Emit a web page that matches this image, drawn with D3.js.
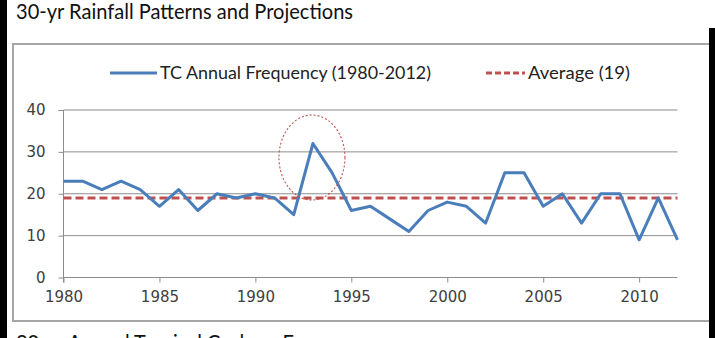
<!DOCTYPE html>
<html>
<head>
<meta charset="utf-8">
<script src="https://cdn.jsdelivr.net/npm/d3@7"></script>
<style>
  html, body { margin: 0; padding: 0; background: #fff; }
  svg { display: block; }
</style>
</head>
<body>
<svg id="chart" width="715" height="338"></svg>
<script>
// Annual tropical cyclone counts, 1980-2012
const years = d3.range(1980, 2013);
const tcCounts = [23, 23, 21, 23, 21, 17, 21, 16, 20, 19, 20, 19, 15, 32, 25, 16, 17,
                  14, 11, 16, 18, 17, 13, 25, 25, 17, 20, 13, 20, 20, 9, 19, 9];
const averageValue = [19];
const yTicks = [0, 10, 20, 30, 40];
const xTicks = [1980, 1985, 1990, 1995, 2000, 2005, 2010];
const seriesNames = ["TC Annual Frequency (1980-2012)", "Average (19)"];
const titleText = "30-yr Rainfall Patterns and Projections";
const footText = "30-yr Annual Tropical Cyclone Frequency";
const highlightYear = [1993];

const svg = d3.select("#chart");
const blue = "#4a7ebb", red = "#c0504d", grid = "#8c8c8c";

// fit a text element to a target width
function fit(sel, w) {
  sel.attr("textLength", w).attr("lengthAdjust", "spacingAndGlyphs");
}

// slide title and footer
svg.append("text").attr("x", 16).attr("y", 19)
  .style("font-family", "Lato").style("font-size", "21px").attr("fill", "#111")
  .text(titleText).call(fit, 337);
svg.append("text").attr("x", 16).attr("y", 350)
  .style("font-family", "Lato").style("font-size", "21px").attr("fill", "#111")
  .text(footText).call(fit, 358);

// chart frame
svg.append("rect").attr("x", 13).attr("y", 44).attr("width", 720).attr("height", 277)
  .attr("fill", "#fff").attr("stroke", "#a6a6a6").attr("stroke-width", 2);

const x = d3.scaleLinear().domain([1980, 2012]).range([63.5, 677.5]);
const y = d3.scaleLinear().domain([0, 40]).range([277.5, 110]);

// horizontal gridlines
svg.append("g").selectAll("line").data(yTicks.filter(d => d > 0)).join("line")
  .attr("x1", x(1980)).attr("x2", x(2012))
  .attr("y1", d => y(d)).attr("y2", d => y(d))
  .attr("stroke", grid).attr("stroke-width", 1);

// y axis
const yAxis = svg.append("g").attr("transform", `translate(${x(1980)},0)`)
  .call(d3.axisLeft(y).tickValues(yTicks).tickSize(5).tickPadding(13));
yAxis.select(".domain").attr("stroke", grid).attr("d", `M0,${y(40)}V${y(0) + 5}`);
yAxis.selectAll(".tick line").attr("stroke", grid);
yAxis.selectAll(".tick text").style("font-family", "DejaVu Sans").style("font-size", "15px")
  .attr("fill", "#404040");

// x axis
const xAxis = svg.append("g").attr("transform", `translate(0,${y(0)})`)
  .call(d3.axisBottom(x).tickValues(xTicks).tickFormat(d3.format("d")).tickSize(5).tickPadding(9));
xAxis.select(".domain").attr("stroke", grid).attr("d", `M${x(1980)},0H${x(2012)}`);
xAxis.selectAll(".tick line").attr("stroke", grid);
xAxis.selectAll(".tick text").style("font-family", "DejaVu Sans").style("font-size", "15px")
  .attr("fill", "#404040");

// average line
svg.append("line")
  .attr("x1", x(1980)).attr("x2", x(2012))
  .attr("y1", y(averageValue[0])).attr("y2", y(averageValue[0]))
  .attr("stroke", red).attr("stroke-width", 3).attr("stroke-dasharray", "8,4");

// annual series
const line = d3.line().x((d, i) => x(years[i])).y(d => y(d));
svg.append("path").datum(tcCounts)
  .attr("d", line).attr("fill", "none")
  .attr("stroke", blue).attr("stroke-width", 3).attr("stroke-linejoin", "round");

// highlight around the 1993 peak
const hy = highlightYear[0];
svg.append("ellipse")
  .attr("cx", x(hy) - 1).attr("cy", y(tcCounts[years.indexOf(hy)]) + 14)
  .attr("rx", 33).attr("ry", 42.5)
  .attr("fill", "none").attr("stroke", red).attr("stroke-width", 1.1)
  .attr("stroke-dasharray", "2,2");

// legend
const lg = svg.append("g");
lg.append("line").attr("x1", 110).attr("x2", 157).attr("y1", 73).attr("y2", 73)
  .attr("stroke", blue).attr("stroke-width", 3);
lg.append("text").attr("x", 160).attr("y", 78.5)
  .style("font-family", "Lato").style("font-size", "17px").attr("fill", "#222")
  .text(seriesNames[0]).call(fit, 271);
lg.append("line").attr("x1", 486).attr("x2", 525).attr("y1", 73).attr("y2", 73)
  .attr("stroke", red).attr("stroke-width", 3).attr("stroke-dasharray", "6,3");
lg.append("text").attr("x", 528).attr("y", 78.5)
  .style("font-family", "Lato").style("font-size", "17px").attr("fill", "#222")
  .text(seriesNames[1]).call(fit, 102);

// dark side bands
svg.append("rect").attr("x", 0).attr("y", 0).attr("width", 7).attr("height", 338).attr("fill", "#000");
svg.append("rect").attr("x", 709).attr("y", 28).attr("width", 6).attr("height", 310).attr("fill", "#000");
</script>
</body>
</html>
